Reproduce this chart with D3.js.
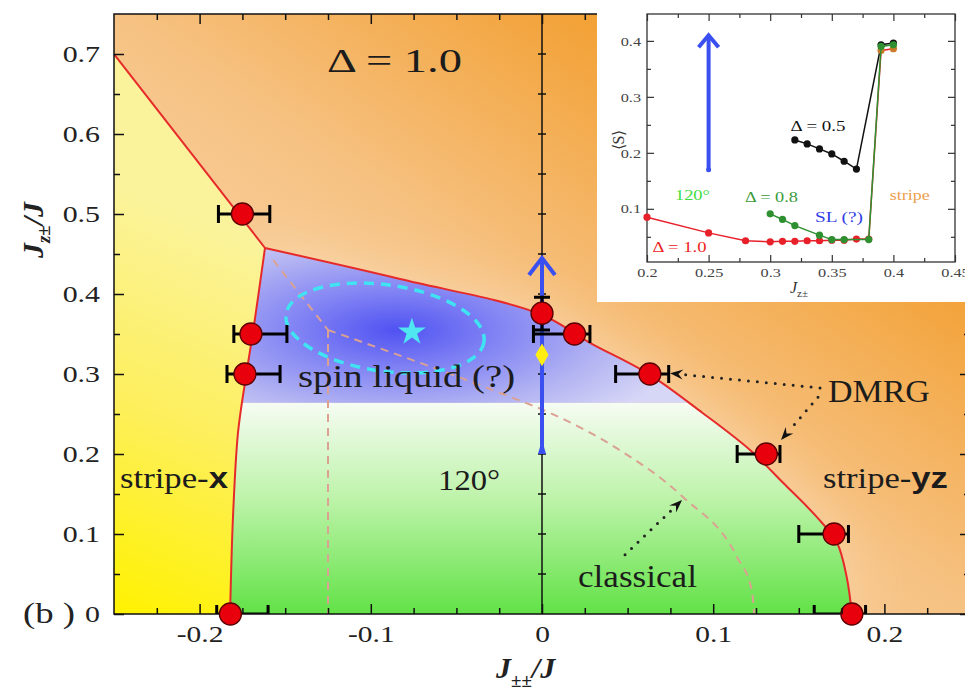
<!DOCTYPE html>
<html><head><meta charset="utf-8">
<script src="https://cdn.jsdelivr.net/npm/d3@7"></script>
<style>
html,body{margin:0;padding:0;background:#fff;}
svg{display:block;}
text{font-family:"Liberation Serif","Times New Roman",serif;}
</style></head><body>
<svg id="chart" width="965" height="691"></svg>
<script>
// ---------- main phase diagram data ----------
const xTicks = [-0.2, -0.1, 0, 0.1, 0.2];
const yTicks = [0, 0.1, 0.2, 0.3, 0.4, 0.5, 0.6, 0.7];

// stripe-x / stripe-yz boundary (straight line to triple point)
const bndTopLeftX = [-0.25, -0.1618];
const bndTopLeftY = [0.70, 0.4575];
// stripe-x boundary, bottom to triple point
const bndLeftX = [-0.1822, -0.1805, -0.1776, -0.1735, -0.1688, -0.1618];
const bndLeftY = [0, 0.121, 0.226, 0.289, 0.3525, 0.4575];
// spin liquid / 120° vs stripe-yz boundary, triple point to bottom
const bndRightX = [-0.1618, -0.0829, -0.0012, 0.028, 0.063, 0.094, 0.1215, 0.1408, 0.1606, 0.1723, 0.178, 0.181];
const bndRightY = [0.4575, 0.4188, 0.375, 0.339, 0.299, 0.251, 0.205, 0.164, 0.121, 0.089, 0.046, 0];
const slLowerEdge = 0.264;

// classical phase boundaries
const clsDiagX = [-0.157, -0.125], clsDiagY = [0.4425, 0.355];
const clsVertX = [-0.125, -0.125], clsVertY = [0.355, 0];
const clsCurveX = [-0.125, -0.0245, 0.0047, 0.0438, 0.0823, 0.1139, 0.1225, 0.124];
const clsCurveY = [0.355, 0.2763, 0.2513, 0.207, 0.1463, 0.0713, 0.03, 0];

// DMRG transition points with error bars
const dmrgX   = [-0.175, -0.170, -0.1735, 0.000, 0.019, 0.063, 0.131, 0.1706, 0.181, -0.182];
const dmrgY   = [0.500, 0.350, 0.300, 0.376, 0.350, 0.300, 0.200, 0.100, 0, 0];
const errLo   = [-0.189, -0.180, -0.184, 0.355, -0.005, 0.043, 0.114, 0.150, 0.159, -0.190];
const errHi   = [-0.159, -0.149, -0.153, 0.396, 0.028, 0.074, 0.139, 0.179, 0.189, -0.160];
const errDir  = ["x", "x", "x", "y", "x", "x", "x", "x", "x", "x"];

// other markers
const vmcX = [0], vmcY = [0.324];          // yellow diamond
const starX = [-0.076], starY = [0.3525];   // cyan star
const ellCx = -0.0917, ellCy = 0.3575, ellRx = 0.0584, ellRy = 0.054, ellTilt = 8;
const scanX = 0, scanY0 = 0.2, scanY1 = 0.445;  // blue scan arrow

// dotted annotation arrows [x0, y0, xTip, yTip]
const annArrows = [
  [0.1624, 0.2825, 0.0748, 0.301],
  [0.1612, 0.271, 0.1396, 0.2175],
  [0.0485, 0.074, 0.0818, 0.1425]
];

// ---------- inset data: <S> vs J_z± ----------
const insXTicks = [0.2, 0.25, 0.3, 0.35, 0.4, 0.45];
const insYTicks = [0.1, 0.2, 0.3, 0.4];
const d10J = [0.20, 0.25, 0.28, 0.30, 0.31, 0.32, 0.33, 0.34, 0.35, 0.36, 0.37, 0.38, 0.39, 0.40];
const d10S = [0.085, 0.057, 0.043, 0.041, 0.042, 0.042, 0.043, 0.043, 0.044, 0.044, 0.046, 0.046, 0.383, 0.386];
const d08J = [0.30, 0.31, 0.32, 0.34, 0.35, 0.36, 0.38, 0.39, 0.40];
const d08S = [0.091, 0.081, 0.070, 0.053, 0.045, 0.045, 0.045, 0.390, 0.393];
const d05J = [0.32, 0.33, 0.34, 0.35, 0.36, 0.37, 0.39, 0.40];
const d05S = [0.223, 0.216, 0.207, 0.198, 0.185, 0.171, 0.393, 0.396];
const insArrowJ = 0.25, insArrowS0 = 0.17, insArrowS1 = 0.41;

// ---------- setup ----------
const svg = d3.select("#chart");
const defs = svg.append("defs");
const X0 = 114, X1 = 970, Y0 = 614, Y1 = 14;
const x = d3.scaleLinear().domain([-0.25, 0.25]).range([X0, X1]);
const y = d3.scaleLinear().domain([0, 0.75]).range([Y0, Y1]);
const zip = (a, b) => a.map((v, i) => [v, b[i]]);
const lineC = d3.line().x(d => x(d[0])).y(d => y(d[1])).curve(d3.curveCatmullRom.alpha(0.5));
const lineM = d3.line().x(d => x(d[0])).y(d => y(d[1])).curve(d3.curveMonotoneX);
const lineL = d3.line().x(d => x(d[0])).y(d => y(d[1]));

function stretch(sel, k) {
  sel.each(function () {
    const w = this.getComputedTextLength();
    d3.select(this).attr("textLength", w * k).attr("lengthAdjust", "spacingAndGlyphs");
  });
}
function fitW(sel, w) { sel.attr("textLength", w).attr("lengthAdjust", "spacingAndGlyphs"); }

defs.append("clipPath").attr("id", "plotClip").append("rect")
  .attr("x", X0).attr("y", Y1).attr("width", X1 - X0).attr("height", Y0 - Y1);

function linGrad(id, attrs, stops) {
  const g = defs.append("linearGradient").attr("id", id);
  Object.entries(attrs).forEach(([k, v]) => g.attr(k, v));
  stops.forEach(([o, c]) => g.append("stop").attr("offset", o).attr("stop-color", c));
}
linGrad("gOrange", { x1: 0, y1: 1, x2: 1, y2: 0 },
  [[0, "#fde6c8"], [0.5, "#f6c283"], [0.75, "#f3a43c"], [1, "#f08c00"]]);
linGrad("gYellow", { gradientUnits: "userSpaceOnUse", x1: x(-0.25), y1: y(0), x2: x(-0.16), y2: y(0.46) },
  [[0, "#fff200"], [0.5, "#fdef5c"], [1, "#fbf39c"]]);
linGrad("gGreen", { gradientUnits: "userSpaceOnUse", x1: 0, y1: y(slLowerEdge), x2: 0, y2: y(0) },
  [[0, "#f6fcf3"], [0.45, "#bef3aa"], [1, "#62e247"]]);
const rg = defs.append("radialGradient").attr("id", "gBlue").attr("gradientUnits", "userSpaceOnUse")
  .attr("cx", 0).attr("cy", 0).attr("r", 1)
  .attr("gradientTransform", `translate(${x(-0.085)},${y(0.355)}) scale(300,115)`);
[[0, "#5052f2"], [0.35, "#8385f4"], [0.7, "#b3b4f2"], [1, "#d6d6f7"]]
  .forEach(([o, c]) => rg.append("stop").attr("offset", o).attr("stop-color", c));
defs.append("filter").attr("id", "glow").attr("x", "-50%").attr("y", "-50%").attr("width", "200%").attr("height", "200%")
  .append("feGaussianBlur").attr("stdDeviation", 30);

svg.append("rect").attr("width", 965).attr("height", 691).attr("fill", "#fff");

const plot = svg.append("g").attr("clip-path", "url(#plotClip)");

// stripe-yz background
plot.append("rect").attr("x", X0).attr("y", Y1).attr("width", X1 - X0).attr("height", Y0 - Y1)
  .attr("fill", "url(#gOrange)");

const leftPts = zip(bndLeftX, bndLeftY);
const rightPts = zip(bndRightX, bndRightY);
const innerPath = lineC(leftPts) + lineC(rightPts).replace("M", "L") + "Z";

plot.append("path").attr("d", innerPath).attr("fill", "#fff").attr("opacity", 0.3).attr("filter", "url(#glow)");

// stripe-x region
const yellowPath = "M" + [x(-0.25), y(0)] + "L" + [x(bndTopLeftX[0]), y(bndTopLeftY[0])]
  + lineC(leftPts.slice().reverse()).replace("M", "L") + "Z";
plot.append("path").attr("d", yellowPath).attr("fill", "url(#gYellow)");

// 120° and spin-liquid regions
defs.append("clipPath").attr("id", "innerClip").append("path").attr("d", innerPath);
const inner = plot.append("g").attr("clip-path", "url(#innerClip)");
inner.append("rect").attr("x", X0).attr("y", y(slLowerEdge)).attr("width", X1 - X0)
  .attr("height", y(0) - y(slLowerEdge)).attr("fill", "url(#gGreen)");
inner.append("rect").attr("x", X0).attr("y", Y1).attr("width", X1 - X0)
  .attr("height", y(slLowerEdge) - Y1).attr("fill", "url(#gBlue)");

// classical boundaries
const clsStyle = s => s.attr("fill", "none").attr("stroke", "#dba293").attr("stroke-width", 2)
  .attr("stroke-dasharray", "8,6");
plot.append("path").attr("d", lineL(zip(clsDiagX, clsDiagY))).call(clsStyle);
plot.append("path").attr("d", lineL(zip(clsVertX, clsVertY))).call(clsStyle);
plot.append("path").attr("d", lineM(zip(clsCurveX, clsCurveY))).call(clsStyle);

// spin-liquid estimate ellipse and star
const ecx = x(ellCx), ecy = y(ellCy);
plot.append("ellipse").attr("cx", ecx).attr("cy", ecy)
  .attr("rx", x(ellCx + ellRx) - ecx).attr("ry", ecy - y(ellCy + ellRy))
  .attr("transform", `rotate(${ellTilt},${ecx},${ecy})`)
  .attr("fill", "none").attr("stroke", "#3fe3f2").attr("stroke-width", 3.5).attr("stroke-dasharray", "10,7");
plot.selectAll(".star").data(zip(starX, starY)).join("path")
  .attr("d", d3.symbol(d3.symbolStar, 240))
  .attr("transform", d => `translate(${x(d[0])},${y(d[1])})`).attr("fill", "#4fe6f2");

// DMRG phase boundaries
const redStyle = s => s.attr("fill", "none").attr("stroke", "#e62a2a").attr("stroke-width", 2);
plot.append("path").attr("d", lineL(zip(bndTopLeftX, bndTopLeftY))).call(redStyle);
plot.append("path").attr("d", lineC(leftPts)).call(redStyle);
plot.append("path").attr("d", lineC(rightPts)).call(redStyle);

// vertical J_±± = 0 line with ticks
plot.append("line").attr("x1", x(0)).attr("x2", x(0)).attr("y1", Y0).attr("y2", Y1)
  .attr("stroke", "#111").attr("stroke-width", 1.5);
plot.selectAll(".ztick").data(d3.range(1, 15).map(i => i * 0.05)).join("line")
  .attr("x1", x(0) - 4).attr("x2", x(0) + 4).attr("y1", d => y(d)).attr("y2", d => y(d))
  .attr("stroke", "#111").attr("stroke-width", 1.5);

// blue scan arrow
const blue = "#3a4ff0";
plot.append("line").attr("x1", x(scanX)).attr("x2", x(scanX)).attr("y1", y(scanY0)).attr("y2", y(scanY1))
  .attr("stroke", blue).attr("stroke-width", 4);
plot.append("path").attr("d", `M${x(scanX) - 13},${y(scanY1) + 17}L${x(scanX)},${y(scanY1)}L${x(scanX) + 13},${y(scanY1) + 17}`)
  .attr("fill", "none").attr("stroke", blue).attr("stroke-width", 4);
plot.append("path").attr("d", `M${x(scanX) - 4},${y(scanY0)}L${x(scanX)},${y(scanY0) - 14}L${x(scanX) + 4},${y(scanY0)}Z`)
  .attr("fill", blue);

// error bars (clipped to the frame)
const dm = dmrgX.map((v, i) => ({ x: v, y: dmrgY[i], lo: errLo[i], hi: errHi[i], dir: errDir[i] }));
const eb = plot.append("g").attr("stroke", "#000").attr("stroke-width", 3).attr("fill", "none");
dm.forEach(d => {
  if (d.dir === "x") {
    const yy = y(d.y);
    eb.append("path").attr("d",
      `M${x(d.lo)},${yy}L${x(d.hi)},${yy}M${x(d.lo)},${yy - 9}L${x(d.lo)},${yy + 9}M${x(d.hi)},${yy - 9}L${x(d.hi)},${yy + 9}`);
  } else {
    const xx = x(d.x);
    eb.append("path").attr("d",
      `M${xx},${y(d.lo)}L${xx},${y(d.hi)}M${xx - 8},${y(d.lo)}L${xx + 8},${y(d.lo)}M${xx - 8},${y(d.hi)}L${xx + 8},${y(d.hi)}`);
  }
});

// yellow diamond
plot.selectAll(".vmc").data(zip(vmcX, vmcY)).join("path")
  .attr("d", d3.symbol(d3.symbolDiamond, 150))
  .attr("transform", d => `translate(${x(d[0])},${y(d[1])})`).attr("fill", "#ffee10");

// dotted annotation arrows
annArrows.forEach(a => {
  const px0 = x(a[0]), py0 = y(a[1]), px1 = x(a[2]), py1 = y(a[3]);
  const ang = Math.atan2(py1 - py0, px1 - px0);
  const L = 13, Wd = 5;
  const bx = px1 - L * Math.cos(ang), by = py1 - L * Math.sin(ang);
  plot.append("line").attr("x1", px0).attr("y1", py0).attr("x2", bx).attr("y2", by)
    .attr("stroke", "#222").attr("stroke-width", 3).attr("stroke-linecap", "round").attr("stroke-dasharray", "0,9");
  const nx = -Math.sin(ang), ny = Math.cos(ang);
  const mx = px1 - 0.65 * L * Math.cos(ang), my = py1 - 0.65 * L * Math.sin(ang);
  plot.append("path").attr("d",
    `M${px1},${py1}L${bx + nx * Wd},${by + ny * Wd}L${mx},${my}L${bx - nx * Wd},${by - ny * Wd}Z`)
    .attr("fill", "#111");
});

// region labels
const lbl = (xv, yv, size) => plot.append("text").attr("x", x(xv)).attr("y", y(yv))
  .attr("font-size", size).attr("fill", "#1c1c1c");
fitW(lbl(-0.1256, 0.6775, 34).text("Δ = 1.0"), 135);
fitW(lbl(-0.1425, 0.2838, 31).text("spin liquid (?)"), 217);
const sx = lbl(-0.2465, 0.1575, 30);
sx.append("tspan").text("stripe-");
sx.append("tspan").attr("font-family", "Liberation Sans, Arial, sans-serif").attr("font-weight", "bold").text("x");
fitW(sx, 108);
fitW(lbl(-0.0607, 0.155, 30).text("120°"), 62);
const syz = lbl(0.1641, 0.1575, 30);
syz.append("tspan").text("stripe-");
syz.append("tspan").attr("font-family", "Liberation Sans, Arial, sans-serif").attr("font-weight", "bold").text("yz");
fitW(syz, 125);
fitW(lbl(0.167, 0.265, 32).text("DMRG"), 102);
fitW(lbl(0.021, 0.03375, 31).text("classical"), 119);

// frame and axes
svg.append("rect").attr("x", X0).attr("y", Y1).attr("width", X1 - X0).attr("height", Y0 - Y1)
  .attr("fill", "none").attr("stroke", "#111").attr("stroke-width", 1.5);

// DMRG circles drawn above the frame so the bottom ones are not cut
svg.append("g").selectAll("circle").data(dm).join("circle")
  .attr("cx", d => x(d.x)).attr("cy", d => y(d.y)).attr("r", 11)
  .attr("fill", "#e8000c").attr("stroke", "#5a0000").attr("stroke-width", 1.3);

const fmt = d => d === 0 ? "0" : d3.format(".1f")(d).replace("−", "-");
const minorY = d3.range(0.05, 0.75, 0.1);
const minorX2 = d3.range(-0.225, 0.25, 0.025).filter(v => Math.abs(Math.round(v * 10) - v * 10) > 1e-6);

function styleAxis(g) {
  g.select(".domain").remove();
  g.selectAll(".tick line").attr("stroke", "#111").attr("stroke-width", 1.5);
  g.attr("font-family", "Liberation Serif, Times New Roman, serif").attr("font-size", 23);
  g.selectAll(".tick text").attr("fill", "#222");
}
const axL = svg.append("g").attr("transform", `translate(${X0},0)`)
  .call(d3.axisLeft(y).tickValues(yTicks).tickSizeInner(-10).tickSizeOuter(0).tickPadding(14).tickFormat(fmt)).call(styleAxis);
svg.append("g").attr("transform", `translate(${X0},0)`)
  .call(d3.axisLeft(y).tickValues(minorY).tickSize(-6).tickFormat("")).call(styleAxis);
const axB = svg.append("g").attr("transform", `translate(0,${Y0})`)
  .call(d3.axisBottom(x).tickValues(xTicks).tickSizeInner(-10).tickSizeOuter(0).tickPadding(12).tickFormat(fmt)).call(styleAxis);
svg.append("g").attr("transform", `translate(0,${Y0})`)
  .call(d3.axisBottom(x).tickValues(minorX2).tickSize(-6).tickFormat("")).call(styleAxis);
svg.append("g").attr("transform", `translate(0,${Y1})`)
  .call(d3.axisTop(x).tickValues(xTicks).tickSize(-10).tickFormat("")).call(styleAxis);
svg.append("g").attr("transform", `translate(0,${Y1})`)
  .call(d3.axisTop(x).tickValues(minorX2).tickSize(-6).tickFormat("")).call(styleAxis);
svg.append("g").attr("transform", `translate(${X1},0)`)
  .call(d3.axisRight(y).tickValues(yTicks).tickSize(-10).tickFormat("")).call(styleAxis);
svg.append("g").attr("transform", `translate(${X1},0)`)
  .call(d3.axisRight(y).tickValues(minorY).tickSize(-6).tickFormat("")).call(styleAxis);
stretch(axL.selectAll(".tick text"), 1.3);
stretch(axB.selectAll(".tick text"), 1.28);

// axis titles
const yt = svg.append("text").attr("transform", "translate(43,230) rotate(-90)").attr("text-anchor", "middle")
  .attr("font-size", 30).attr("font-style", "italic").attr("font-weight", "bold").attr("fill", "#222");
yt.append("tspan").text("J");
yt.append("tspan").attr("font-size", 19).attr("dy", 7).text("z±");
yt.append("tspan").attr("dy", -7).text("/J");
const xt = svg.append("text").attr("x", 496).attr("y", 678)
  .attr("font-size", 30).attr("font-style", "italic").attr("font-weight", "bold").attr("fill", "#222");
xt.append("tspan").text("J");
xt.append("tspan").attr("font-size", 19).attr("dy", 9).text("±±");
xt.append("tspan").attr("dy", -9).text("/J");
fitW(svg.append("text").attr("x", 23).attr("y", 623).attr("font-size", 30).attr("fill", "#222").text("(b )"), 52);

// ---------- inset ----------
const IX0 = 647, IX1 = 955, IY0 = 262, IY1 = 14;
const ix = d3.scaleLinear().domain([0.2, 0.45]).range([IX0, IX1]);
const iy = d3.scaleLinear().domain([0.005, 0.448]).range([IY0, IY1]);
const ins = svg.append("g");
ins.append("rect").attr("x", 597).attr("y", 0).attr("width", 368).attr("height", 302).attr("fill", "#fff");

const iMinX = d3.range(0.225, 0.45, 0.05);
const iMinY = d3.range(0.05, 0.45, 0.1);
function iStyle(g) {
  g.select(".domain").remove();
  g.selectAll(".tick line").attr("stroke", "#333").attr("stroke-width", 1.2);
  g.attr("font-family", "Liberation Serif, Times New Roman, serif").attr("font-size", 13);
  g.selectAll(".tick text").attr("fill", "#444");
}
const iaB = ins.append("g").attr("transform", `translate(0,${IY0})`)
  .call(d3.axisBottom(ix).tickValues(insXTicks).tickSizeInner(-7).tickSizeOuter(0).tickPadding(6).tickFormat(d3.format("~g"))).call(iStyle);
ins.append("g").attr("transform", `translate(0,${IY0})`)
  .call(d3.axisBottom(ix).tickValues(iMinX).tickSize(-4).tickFormat("")).call(iStyle);
ins.append("g").attr("transform", `translate(0,${IY1})`)
  .call(d3.axisTop(ix).tickValues(insXTicks).tickSize(-7).tickFormat("")).call(iStyle);
ins.append("g").attr("transform", `translate(0,${IY1})`)
  .call(d3.axisTop(ix).tickValues(iMinX).tickSize(-4).tickFormat("")).call(iStyle);
const iaL = ins.append("g").attr("transform", `translate(${IX0},0)`)
  .call(d3.axisLeft(iy).tickValues(insYTicks).tickSizeInner(-7).tickSizeOuter(0).tickPadding(6).tickFormat(d3.format(".1f"))).call(iStyle);
ins.append("g").attr("transform", `translate(${IX0},0)`)
  .call(d3.axisLeft(iy).tickValues(iMinY).tickSize(-4).tickFormat("")).call(iStyle);
ins.append("g").attr("transform", `translate(${IX1},0)`)
  .call(d3.axisRight(iy).tickValues(insYTicks).tickSize(-7).tickFormat("")).call(iStyle);
ins.append("g").attr("transform", `translate(${IX1},0)`)
  .call(d3.axisRight(iy).tickValues(iMinY).tickSize(-4).tickFormat("")).call(iStyle);
stretch(iaB.selectAll(".tick text"), 1.25);
stretch(iaL.selectAll(".tick text"), 1.25);
ins.append("rect").attr("x", IX0).attr("y", IY1).attr("width", IX1 - IX0).attr("height", IY0 - IY1)
  .attr("fill", "none").attr("stroke", "#333").attr("stroke-width", 1.3);

// blue arrow in inset
ins.append("line").attr("x1", ix(insArrowJ)).attr("x2", ix(insArrowJ)).attr("y1", iy(insArrowS0)).attr("y2", iy(insArrowS1))
  .attr("stroke", blue).attr("stroke-width", 4);
ins.append("path").attr("d", `M${ix(insArrowJ) - 10},${iy(insArrowS1) + 12}L${ix(insArrowJ)},${iy(insArrowS1)}L${ix(insArrowJ) + 10},${iy(insArrowS1) + 12}`)
  .attr("fill", "none").attr("stroke", blue).attr("stroke-width", 4);
ins.append("circle").attr("cx", ix(insArrowJ)).attr("cy", iy(insArrowS0)).attr("r", 2.5).attr("fill", blue);

const iLine = d3.line().x(d => ix(d[0])).y(d => iy(d[1]));
function series(J, S, col, stripeCol) {
  const pts = zip(J, S);
  ins.append("path").attr("d", iLine(pts)).attr("fill", "none").attr("stroke", col).attr("stroke-width", 1.5);
  ins.append("g").selectAll("circle").data(pts).join("circle")
    .attr("cx", d => ix(d[0])).attr("cy", d => iy(d[1])).attr("r", 3.6)
    .attr("fill", d => (stripeCol && d[1] > 0.3) ? stripeCol : col);
}
series(d05J, d05S, "#111");
series(d10J, d10S, "#e8202a", "#cc7a28");
series(d08J, d08S, "#2e9030");

const iLbl = (jv, sv, col, size) => ins.append("text").attr("x", ix(jv)).attr("y", iy(sv))
  .attr("font-size", size).attr("fill", col);
fitW(iLbl(0.3165, 0.2385, "#111", 15).text("Δ = 0.5"), 55);
fitW(iLbl(0.2227, 0.1165, "#3fdc3f", 15).text("120°"), 35);
fitW(iLbl(0.2795, 0.113, "#3a9a3a", 15).text("Δ = 0.8"), 53);
fitW(iLbl(0.3364, 0.0768, "#3040e6", 15).text("SL (?)"), 48);
fitW(iLbl(0.397, 0.1165, "#eda04a", 15).text("stripe"), 40);
fitW(iLbl(0.2045, 0.0228, "#ee2222", 15).text("Δ = 1.0"), 54);

ins.append("text").attr("transform", "translate(624,140) rotate(-90)").attr("text-anchor", "middle")
  .attr("font-size", 16).attr("fill", "#333").text("⟨S⟩");
const ixt = ins.append("text").attr("x", 790).attr("y", 293).attr("font-size", 16).attr("fill", "#333");
ixt.append("tspan").attr("font-style", "italic").text("J");
ixt.append("tspan").attr("font-size", 11).attr("dy", 4).text("z±");
</script>
</body></html>
